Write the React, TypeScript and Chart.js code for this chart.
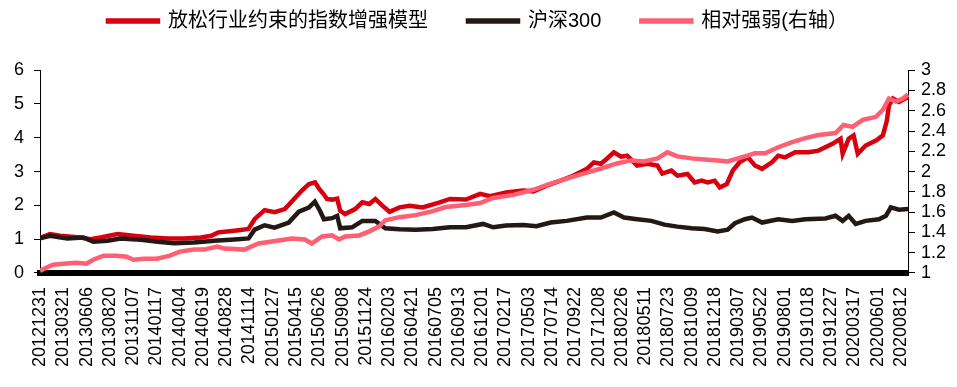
import React, { useEffect, useRef } from 'react';
import { Chart, registerables } from 'chart.js';

Chart.register(...registerables);

const dateLabels = [
  '20121231', '20130321', '20130606', '20130820', '20131107', '20140117', '20140404', '20140619',
  '20140828', '20141114', '20150127', '20150415', '20150626', '20150908', '20151124', '20160203',
  '20160421', '20160705', '20160913', '20161201', '20170217', '20170503', '20170714', '20170922',
  '20171208', '20180226', '20180511', '20180723', '20181009', '20181218', '20190307', '20190522',
  '20190801', '20191018', '20191227', '20200317', '20200601', '20200812',
];
const leftTickLabels = ['0', '1', '2', '3', '4', '5', '6'];
const rightTickLabels = ['1', '1.2', '1.4', '1.6', '1.8', '2', '2.2', '2.4', '2.6', '2.8', '3'];
const seriesNames = ['放松行业约束的指数增强模型', '沪深300', '相对强弱(右轴）'];

// x positions are in units of the date-label index
const modelX = [0, 0.43, 0.87, 1.73, 2.16, 2.6, 3.33, 4.02, 4.76, 5.5, 6.19, 6.92, 7.36, 7.66, 8.35, 8.96, 9.22, 9.65, 10.08, 10.52, 10.95, 11.25, 11.56, 11.82, 11.99, 12.2, 12.33, 12.55, 12.77, 12.9, 13.11, 13.54, 13.85, 14.15, 14.41, 14.71, 15.02, 15.45, 15.88, 16.44, 17.18, 17.61, 18.3, 18.91, 19.34, 20.03, 20.77, 21.2, 21.77, 22.37, 22.93, 23.5, 23.8, 24.1, 24.36, 24.66, 24.97, 25.23, 25.66, 26.09, 26.53, 26.74, 27.13, 27.39, 27.82, 28.13, 28.43, 28.69, 28.99, 29.21, 29.51, 29.77, 30.07, 30.42, 30.72, 31.03, 31.46, 31.72, 32.02, 32.45, 33.02, 33.45, 34.05, 34.4, 34.49, 34.75, 34.96, 35.14, 35.48, 35.92, 36.22, 36.39, 36.48, 36.65, 36.91, 37.3];
const modelY = [1.04, 1.15, 1.1, 1.05, 1.0, 1.05, 1.15, 1.1, 1.05, 1.02, 1.02, 1.05, 1.1, 1.2, 1.25, 1.3, 1.59, 1.86, 1.8, 1.89, 2.21, 2.44, 2.63, 2.68, 2.49, 2.32, 2.19, 2.17, 2.2, 1.84, 1.74, 1.89, 2.09, 2.04, 2.19, 1.99, 1.81, 1.94, 1.99, 1.94, 2.09, 2.19, 2.17, 2.34, 2.27, 2.38, 2.44, 2.41, 2.58, 2.73, 2.88, 3.08, 3.27, 3.23, 3.38, 3.57, 3.44, 3.47, 3.18, 3.23, 3.18, 2.94, 3.03, 2.88, 2.93, 2.68, 2.73, 2.68, 2.73, 2.53, 2.63, 3.03, 3.28, 3.42, 3.18, 3.08, 3.28, 3.47, 3.42, 3.57, 3.57, 3.62, 3.82, 3.97, 3.53, 3.97, 4.07, 3.53, 3.77, 3.92, 4.07, 4.51, 4.96, 5.16, 5.06, 5.21];

const hs300X = [0, 0.43, 1.17, 1.86, 2.29, 2.9, 3.46, 4.33, 5.06, 5.76, 6.62, 7.49, 8.35, 8.96, 9.22, 9.65, 10.08, 10.69, 11.12, 11.55, 11.81, 12.03, 12.2, 12.55, 12.77, 12.9, 13.41, 13.85, 14.41, 14.84, 15.45, 16.14, 16.88, 17.61, 18.3, 19.04, 19.47, 20.03, 20.77, 21.33, 21.94, 22.63, 23.5, 24.1, 24.66, 25.1, 25.66, 26.27, 26.83, 27.39, 28.0, 28.56, 29.12, 29.55, 29.86, 30.29, 30.59, 31.03, 31.72, 32.32, 32.89, 33.75, 34.18, 34.49, 34.75, 35.05, 35.48, 36.05, 36.35, 36.56, 36.91, 37.3];
const hs300Y = [1.02, 1.1, 1.02, 1.05, 0.92, 0.95, 1.02, 0.98, 0.92, 0.88, 0.9, 0.95, 0.99, 1.02, 1.28, 1.41, 1.34, 1.49, 1.81, 1.93, 2.11, 1.84, 1.59, 1.62, 1.69, 1.32, 1.35, 1.54, 1.54, 1.32, 1.29, 1.28, 1.3, 1.35, 1.35, 1.45, 1.35, 1.4, 1.42, 1.38, 1.49, 1.54, 1.64, 1.64, 1.79, 1.64, 1.59, 1.54, 1.43, 1.37, 1.32, 1.3, 1.23, 1.28, 1.47, 1.59, 1.64, 1.49, 1.59, 1.54, 1.59, 1.61, 1.69, 1.54, 1.69, 1.45, 1.54, 1.59, 1.69, 1.94, 1.87, 1.89];

const relX = [0, 0.26, 0.56, 1.0, 1.56, 1.99, 2.29, 2.73, 3.29, 3.72, 4.02, 4.46, 5.02, 5.58, 6.01, 6.62, 7.05, 7.62, 7.92, 8.78, 9.39, 10.26, 10.82, 11.38, 11.68, 12.12, 12.55, 12.85, 13.11, 13.72, 14.15, 14.58, 14.84, 15.45, 16.14, 16.88, 17.44, 18.3, 18.91, 19.47, 20.34, 21.2, 21.94, 22.63, 23.5, 24.1, 24.79, 25.4, 25.96, 26.53, 26.96, 27.39, 28.0, 28.56, 29.12, 29.55, 29.99, 30.29, 30.72, 31.16, 31.72, 32.32, 32.89, 33.45, 34.18, 34.53, 34.92, 35.35, 35.92, 36.22, 36.48, 36.78, 37.08, 37.3];
const relY = [1.02, 1.05, 1.08, 1.09, 1.1, 1.09, 1.13, 1.17, 1.17, 1.16, 1.13, 1.14, 1.14, 1.17, 1.21, 1.23, 1.23, 1.26, 1.24, 1.23, 1.29, 1.32, 1.34, 1.33, 1.29, 1.36, 1.37, 1.33, 1.36, 1.37, 1.41, 1.46, 1.52, 1.55, 1.57, 1.61, 1.65, 1.67, 1.69, 1.74, 1.77, 1.82, 1.88, 1.93, 1.99, 2.03, 2.08, 2.11, 2.1, 2.13, 2.19, 2.15, 2.13, 2.12, 2.11, 2.1, 2.13, 2.15, 2.18, 2.18, 2.24, 2.29, 2.33, 2.36, 2.38, 2.46, 2.44, 2.51, 2.54, 2.61, 2.72, 2.69, 2.72, 2.76];

const RED = '#D7000F';
const BLACK = '#231815';
const PINK = '#FF5F73';
const FONT = '"Liberation Sans", "Noto Sans CJK SC", Arial, sans-serif';

const zip = (xs: number[], ys: number[]) => xs.map((x, i) => ({ x, y: ys[i] }));

export default function App() {
  const ref = useRef<HTMLCanvasElement>(null);

  useEffect(() => {
    const chart = new Chart(ref.current as HTMLCanvasElement, {
      type: 'line',
      data: {
        datasets: [
          {
            label: seriesNames[0],
            data: zip(modelX, modelY),
            borderColor: RED,
            backgroundColor: RED,
            borderWidth: 4.5,
            pointRadius: 0,
            tension: 0,
            yAxisID: 'y',
            order: 2,
          },
          {
            label: seriesNames[1],
            data: zip(hs300X, hs300Y),
            borderColor: BLACK,
            backgroundColor: BLACK,
            borderWidth: 4.5,
            pointRadius: 0,
            tension: 0,
            yAxisID: 'y',
            order: 1,
          },
          {
            label: seriesNames[2],
            data: zip(relX, relY),
            borderColor: PINK,
            backgroundColor: PINK,
            borderWidth: 4.5,
            pointRadius: 0,
            tension: 0,
            yAxisID: 'y1',
            order: 0,
          },
        ],
      },
      options: {
        responsive: false,
        animation: false,
        devicePixelRatio: 1,
        layout: { padding: { top: -29, left: 4, right: 5, bottom: 6 } },
        plugins: {
          legend: {
            position: 'top',
            labels: {
              boxWidth: 50,
              boxHeight: 1,
              padding: 40,
              color: '#000',
              font: { family: FONT, size: 20 },
              sort: (a: any, b: any) => a.datasetIndex - b.datasetIndex,
            },
          },
          title: {
            display: true,
            text: ' ',
            weight: 500,
            font: { size: 1 },
            padding: { top: 0, bottom: 28 },
          } as any,
          tooltip: { enabled: false },
        },
        scales: {
          x: {
            type: 'linear',
            min: 0,
            max: 37.34,
            grid: { display: false, drawTicks: false },
            border: { display: true, color: '#000', width: 6 },
            ticks: {
              stepSize: 1,
              autoSkip: false,
              maxRotation: 90,
              minRotation: 90,
              includeBounds: false,
              padding: 14,
              color: '#000',
              font: { family: FONT, size: 18 },
              callback: (v: any) => (Number.isInteger(v) ? dateLabels[v] ?? '' : ''),
            },
          },
          y: {
            position: 'left',
            min: 0,
            max: 6,
            grid: { drawOnChartArea: false, drawTicks: true, tickLength: 6, color: '#000' },
            border: { display: true, color: '#000', width: 1 },
            ticks: {
              stepSize: 1,
              autoSkip: false,
              padding: 10,
              color: '#000',
              font: { family: FONT, size: 18 },
              callback: (_v: any, i: number) => leftTickLabels[i],
            },
          },
          y1: {
            position: 'right',
            min: 1,
            max: 3,
            grid: { drawOnChartArea: false, drawTicks: true, tickLength: 6, color: '#000' },
            border: { display: true, color: '#000', width: 1 },
            ticks: {
              stepSize: 0.2,
              autoSkip: false,
              padding: 6,
              color: '#000',
              font: { family: FONT, size: 18 },
              callback: (_v: any, i: number) => rightTickLabels[i],
            },
          },
        },
      },
    });
    return () => chart.destroy();
  }, []);

  return (
    <div style={{ position: 'absolute', left: 0, top: 0, width: 957, height: 387, background: '#fff' }}>
      <canvas ref={ref} width={957} height={387} style={{ display: 'block' }} />
    </div>
  );
}
